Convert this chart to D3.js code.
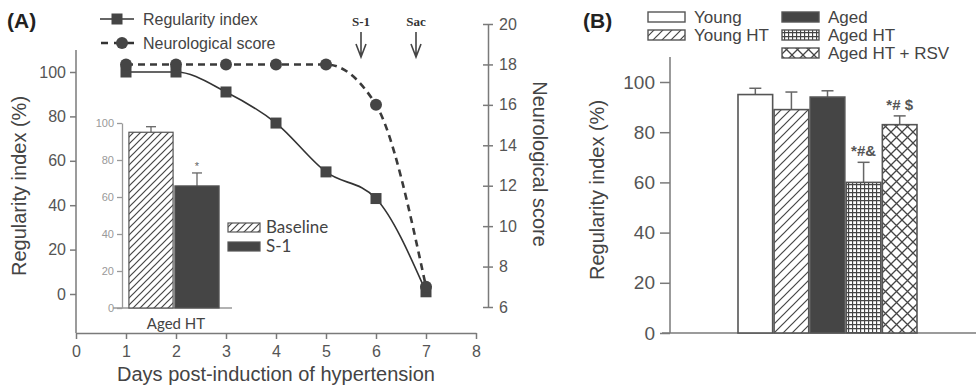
<!DOCTYPE html>
<html><head><meta charset="utf-8">
<script src="https://cdn.jsdelivr.net/npm/d3@7"></script>
<style>body{margin:0;background:#fff}svg{display:block}</style>
</head><body><svg id="c" width="977" height="391"></svg>
<script>
const days = [1, 2, 3, 4, 5, 6, 7];
const regularity = [100, 100, 91, 77, 55, 43, 1];
const neuroScore = [18, 18, 18, 18, 18, 16, 7];
const xTicksA = [0, 1, 2, 3, 4, 5, 6, 7, 8];
const yTicksA = [0, 20, 40, 60, 80, 100];
const yTicksRight = [6, 8, 10, 12, 14, 16, 18, 20];
const insetCats = ["Baseline", "S-1"];
const insetVals = [95, 66];
const insetErr = [3, 7];
const insetTicks = [0, 20, 40, 60, 80, 100];
const events = [{label: "S-1", day: 5.7}, {label: "Sac", day: 6.8}];
const groupsB = ["Young", "Young HT", "Aged", "Aged HT", "Aged HT + RSV"];
const valsB = [95, 89, 94, 60, 83];
const errB = [2.5, 7, 2.5, 8, 3.5];
const sigB = ["", "", "", "*#&", "*# $"];
const yTicksB = [0, 20, 40, 60, 80, 100];

const svg = d3.select("#c");
const SANS = "'Liberation Sans', Arial, sans-serif";
const CAL = "Lato, 'Open Sans', sans-serif";
const AX = "#7a7a7a", TXT = "#555", DARK = "#454545";

// patterns
const defs = svg.append("defs");
function hatch(id, size) {
  const p = defs.append("pattern").attr("id", id).attr("patternUnits", "userSpaceOnUse")
    .attr("width", size).attr("height", size);
  p.append("rect").attr("width", size).attr("height", size).attr("fill", "#fff");
  p.append("path").attr("d", `M0,${size} L${size},0 M${-size/2},${size/2} L${size/2},${-size/2} M${size/2},${size*1.5} L${size*1.5},${size/2}`)
    .attr("stroke", DARK).attr("stroke-width", 1.2);
}
hatch("hatch", 9);
hatch("hatchS", 7);
{
  const p = defs.append("pattern").attr("id", "grid").attr("patternUnits", "userSpaceOnUse").attr("width", 4).attr("height", 4);
  p.append("rect").attr("width", 4).attr("height", 4).attr("fill", "#fff");
  p.append("path").attr("d", "M0,0.5 H4 M0.5,0 V4").attr("stroke", DARK).attr("stroke-width", 1.3);
}
{
  const p = defs.append("pattern").attr("id", "cross").attr("patternUnits", "userSpaceOnUse").attr("width", 11).attr("height", 11);
  p.append("rect").attr("width", 11).attr("height", 11).attr("fill", "#fff");
  p.append("path").attr("d", "M0,0 L11,11 M11,0 L0,11").attr("stroke", DARK).attr("stroke-width", 1.3);
}
const fillB = ["#fff", "url(#hatch)", DARK, "url(#grid)", "url(#cross)"];

// ---------------- Panel A ----------------
const xA = d3.scaleLinear().domain([0, 8]).range([76, 476]);
const yA = d3.scaleLinear().domain([0, 100]).range([294, 72]);
const yR = d3.scaleLinear().domain([6, 20]).range([307, 24]);

svg.append("text").attr("x", 7).attr("y", 28).text("(A)")
  .attr("font-family", SANS).attr("font-weight", "bold").attr("font-size", 21).attr("fill", "#222");

const gx = svg.append("g").attr("transform", "translate(0,333)")
  .call(d3.axisBottom(xA).tickValues(xTicksA).tickSize(6).tickSizeOuter(0));
const gy = svg.append("g").attr("transform", "translate(76,0)")
  .call(d3.axisLeft(yA).tickValues(yTicksA).tickSize(6).tickSizeOuter(0));
gy.select(".domain").attr("d", `M0,${50}V${333}`);
const gr = svg.append("g").attr("transform", "translate(488,0)")
  .call(d3.axisRight(yR).tickValues(yTicksRight).tickSize(5).tickSizeOuter(0));
gr.selectAll(".tick line").attr("x1", -5).attr("x2", 5);
[gx, gy, gr].forEach(g => {
  g.selectAll(".domain,.tick line").attr("stroke", AX).attr("stroke-width", 1.5);
  g.selectAll("text").attr("font-family", SANS).attr("font-size", 16).attr("fill", TXT);
});
gx.selectAll("text").attr("dy", "0.95em");
gy.selectAll("text").attr("x", -10);
gr.selectAll("text").attr("x", 11);

svg.append("text").attr("transform", "translate(26,186) rotate(-90)").attr("text-anchor", "middle")
  .text("Regularity index (%)").attr("font-family", SANS).attr("font-size", 20).attr("fill", "#444");
svg.append("text").attr("transform", "translate(533,164) rotate(90)").attr("text-anchor", "middle")
  .text("Neurological score").attr("font-family", SANS).attr("font-size", 20).attr("fill", "#444");
svg.append("text").attr("x", 276).attr("y", 381).attr("text-anchor", "middle")
  .text("Days post-induction of hypertension").attr("font-family", SANS).attr("font-size", 20).attr("fill", "#444");

// inset
const xI = d3.scaleBand().domain(insetCats).range([128, 220]).paddingInner(0.04).paddingOuter(0.02);
const yI = d3.scaleLinear().domain([0, 100]).range([308, 123]);
const gi = svg.append("g").attr("transform", "translate(122,0)")
  .call(d3.axisLeft(yI).tickValues(insetTicks).tickSize(5).tickSizeOuter(0));
gi.selectAll(".domain,.tick line").attr("stroke", "#999").attr("stroke-width", 1.3);
gi.selectAll("text").attr("font-family", SANS).attr("font-size", 11).attr("fill", "#999");
svg.append("line").attr("x1", 113).attr("x2", 232).attr("y1", 308).attr("y2", 308).attr("stroke", "#999").attr("stroke-width", 1.3);
const inFill = ["url(#hatchS)", DARK];
insetCats.forEach((c, i) => {
  const x0 = xI(c), w = xI.bandwidth(), cx = x0 + w / 2;
  svg.append("line").attr("x1", cx).attr("x2", cx).attr("y1", yI(insetVals[i])).attr("y2", yI(insetVals[i] + insetErr[i])).attr("stroke", "#666").attr("stroke-width", 1.3);
  svg.append("line").attr("x1", cx - 5).attr("x2", cx + 5).attr("y1", yI(insetVals[i] + insetErr[i])).attr("y2", yI(insetVals[i] + insetErr[i])).attr("stroke", "#666").attr("stroke-width", 1.3);
  svg.append("rect").attr("x", x0).attr("y", yI(insetVals[i])).attr("width", w).attr("height", yI(0) - yI(insetVals[i]))
    .attr("fill", inFill[i]).attr("stroke", "#555").attr("stroke-width", 1.2);
});
svg.append("text").attr("x", xI("S-1") + xI.bandwidth() / 2).attr("y", yI(insetVals[1] + insetErr[1]) - 3).attr("text-anchor", "middle")
  .text("*").attr("font-family", SANS).attr("font-size", 11).attr("fill", "#666");
svg.append("text").attr("x", 176).attr("y", 329).attr("text-anchor", "middle").text("Aged HT")
  .attr("font-family", CAL).attr("font-size", 15).attr("fill", "#444");
insetCats.forEach((c, i) => {
  const y = 223 + i * 19;
  svg.append("rect").attr("x", 228).attr("y", y).attr("width", 32).attr("height", 9).attr("fill", inFill[i]).attr("stroke", "#555").attr("stroke-width", 1.2);
  svg.append("text").attr("x", 266).attr("y", y + 10).text(c).attr("font-family", CAL).attr("font-size", 17).attr("fill", "#444");
});

// lines
const lineReg = d3.line().x((d, i) => xA(days[i])).y(d => yA(d)).curve(d3.curveMonotoneX);
const lineNeu = d3.line().x((d, i) => xA(days[i])).y(d => yR(d)).curve(d3.curveMonotoneX);
svg.append("path").attr("d", lineReg(regularity)).attr("fill", "none").attr("stroke", "#333").attr("stroke-width", 1.6);
svg.append("path").attr("d", lineNeu(neuroScore)).attr("fill", "none").attr("stroke", "#3a3a3a").attr("stroke-width", 2.6).attr("stroke-dasharray", "7,5");
regularity.forEach((v, i) => {
  svg.append("rect").attr("x", xA(days[i]) - 5.5).attr("y", yA(v) - 5.5).attr("width", 11).attr("height", 11).attr("fill", DARK);
});
neuroScore.forEach((v, i) => {
  svg.append("circle").attr("cx", xA(days[i])).attr("cy", yR(v)).attr("r", 6).attr("fill", DARK);
});

// legend A
svg.append("line").attr("x1", 100).attr("x2", 134).attr("y1", 19).attr("y2", 19).attr("stroke", "#333").attr("stroke-width", 1.6);
svg.append("rect").attr("x", 111.5).attr("y", 13.5).attr("width", 11).attr("height", 11).attr("fill", DARK);
svg.append("text").attr("x", 143).attr("y", 25).text("Regularity index").attr("font-family", SANS).attr("font-size", 16).attr("fill", "#444");
svg.append("line").attr("x1", 101).attr("x2", 138).attr("y1", 43).attr("y2", 43).attr("stroke", "#333").attr("stroke-width", 2.6).attr("stroke-dasharray", "7,6");
svg.append("circle").attr("cx", 122).attr("cy", 43).attr("r", 6).attr("fill", DARK);
svg.append("text").attr("x", 143).attr("y", 49).text("Neurological score").attr("font-family", SANS).attr("font-size", 16).attr("fill", "#444");

// event arrows
events.forEach(e => {
  const x = xA(e.day);
  svg.append("text").attr("x", x).attr("y", 26).attr("text-anchor", "middle").text(e.label)
    .attr("font-family", "'Liberation Serif', serif").attr("font-weight", "bold").attr("font-size", 13).attr("fill", "#333");
  svg.append("path").attr("d", `M${x},32 V57 M${x - 5},44 L${x},57 L${x + 5},44`).attr("fill", "none").attr("stroke", "#444").attr("stroke-width", 1.6);
});

// ---------------- Panel B ----------------
svg.append("text").attr("x", 583).attr("y", 28).text("(B)")
  .attr("font-family", SANS).attr("font-weight", "bold").attr("font-size", 21).attr("fill", "#222");
const xB = d3.scaleBand().domain(groupsB).range([738, 917]).paddingInner(0.04);
const yB = d3.scaleLinear().domain([0, 100]).range([333, 82]);
const gb = svg.append("g").attr("transform", "translate(670,0)")
  .call(d3.axisLeft(yB).tickValues(yTicksB).tickSize(10).tickSizeOuter(0));
gb.select(".domain").attr("d", "M0,57V333");
gb.selectAll(".domain,.tick line").attr("stroke", AX).attr("stroke-width", 1.5);
gb.selectAll("text").attr("font-family", SANS).attr("font-size", 19).attr("fill", TXT).attr("x", -15);
svg.append("line").attr("x1", 662).attr("x2", 976).attr("y1", 333).attr("y2", 333).attr("stroke", AX).attr("stroke-width", 1.5);
svg.append("text").attr("transform", "translate(604,190) rotate(-90)").attr("text-anchor", "middle")
  .text("Regularity index (%)").attr("font-family", SANS).attr("font-size", 20).attr("fill", "#444");

groupsB.forEach((g, i) => {
  const x0 = xB(g), w = xB.bandwidth(), cx = x0 + w / 2;
  const top = yB(valsB[i] + errB[i]);
  svg.append("line").attr("x1", cx).attr("x2", cx).attr("y1", yB(valsB[i])).attr("y2", top).attr("stroke", "#666").attr("stroke-width", 1.5);
  svg.append("line").attr("x1", cx - 6).attr("x2", cx + 6).attr("y1", top).attr("y2", top).attr("stroke", "#666").attr("stroke-width", 1.5);
  svg.append("rect").attr("x", x0).attr("y", yB(valsB[i])).attr("width", w).attr("height", yB(0) - yB(valsB[i]))
    .attr("fill", fillB[i]).attr("stroke", "#555").attr("stroke-width", 1.6);
  if (sigB[i]) svg.append("text").attr("x", cx).attr("y", top - 6).attr("text-anchor", "middle").text(sigB[i])
    .attr("font-family", SANS).attr("font-weight", "bold").attr("font-size", 15).attr("fill", "#555");
});

// legend B
const legPos = [[648, 12], [648, 30], [782, 12], [782, 30], [782, 48]];
groupsB.forEach((g, i) => {
  const [x, y] = legPos[i];
  svg.append("rect").attr("x", x).attr("y", y).attr("width", 37).attr("height", 10).attr("fill", fillB[i]).attr("stroke", "#555").attr("stroke-width", 1.4);
  svg.append("text").attr("x", x + 46).attr("y", y + 11).text(g).attr("font-family", SANS).attr("font-size", 17).attr("fill", "#444");
});
</script></body></html>
